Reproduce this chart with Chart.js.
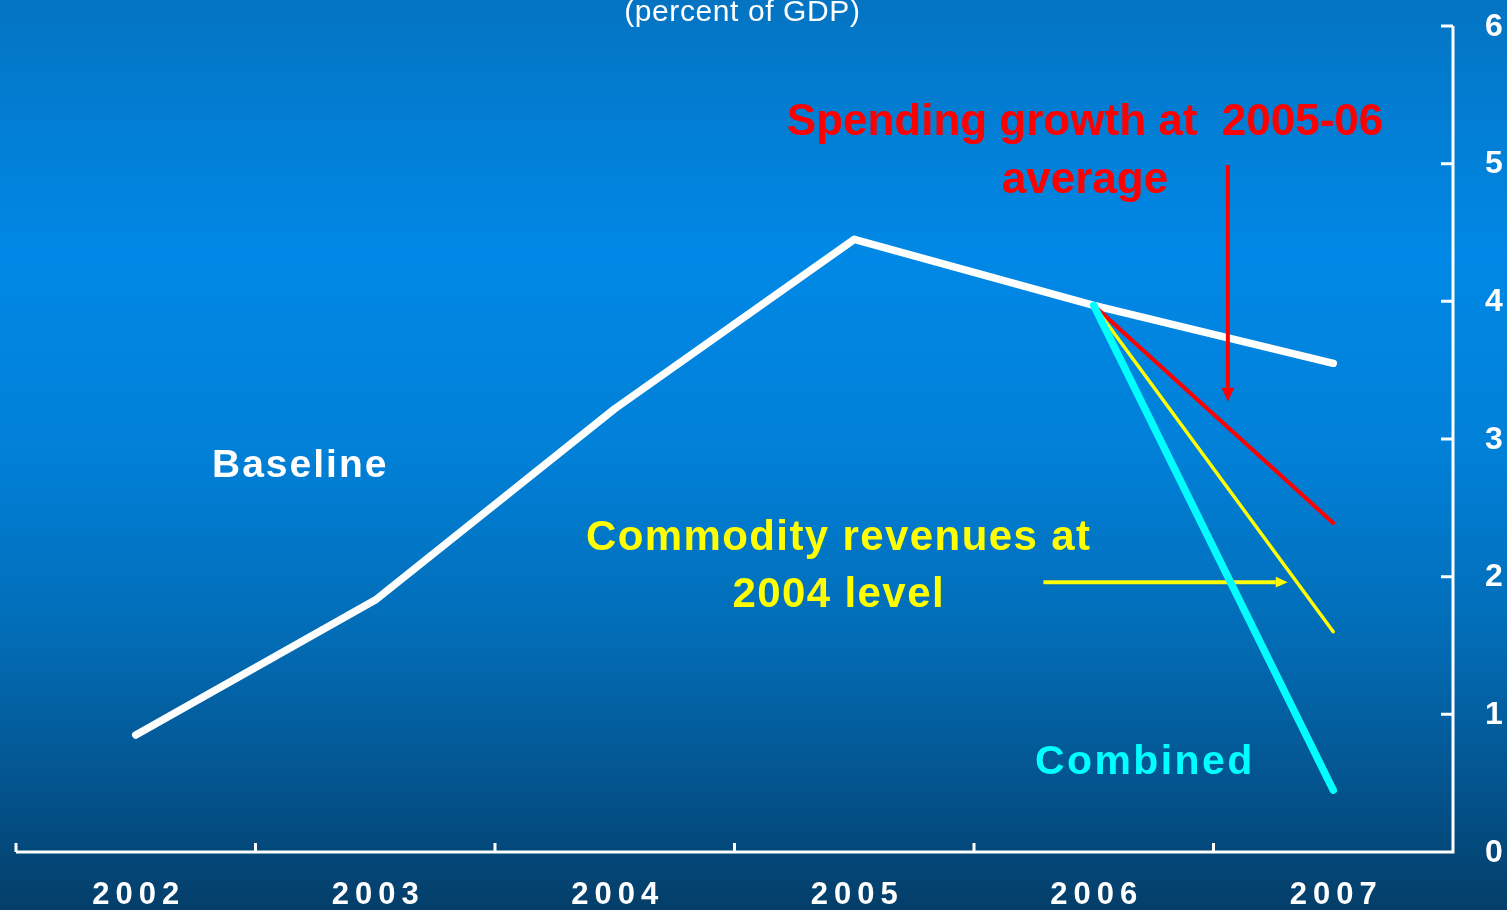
<!DOCTYPE html>
<html>
<head>
<meta charset="utf-8">
<script src="https://cdn.jsdelivr.net/npm/chart.js@4/dist/chart.umd.min.js"></script>
<style>
  html, body { margin: 0; padding: 0; background: #0478c6; overflow: hidden; }
  #wrap { width: 1507px; height: 910px; }
</style>
</head>
<body>
<div id="wrap"><canvas id="c" width="1507" height="910"></canvas></div>
<script>
// Fiscal balance, percent of GDP
const years = ['2002', '2003', '2004', '2005', '2006', '2007'];
const baseline = [0.85, 1.83, 3.22, 4.45, 3.97, 3.55];
const spendingGrowth = [null, null, null, null, 3.97, 2.39];
const commodityRevenues = [null, null, null, null, 3.97, 1.60];
const combined = [null, null, null, null, 3.97, 0.45];
const yTicks = [0, 1, 2, 3, 4, 5, 6];

const FONT = '"Liberation Sans", Arial, Helvetica, sans-serif';

function drawText(ctx, text, x, y, font, color, align, spacing) {
  ctx.save();
  ctx.font = font;
  ctx.fillStyle = color;
  ctx.letterSpacing = (spacing || 0) + 'px';
  ctx.textBaseline = 'alphabetic';
  ctx.textAlign = align;
  let dx = 0;
  if (align === 'center') dx = (spacing || 0) / 2;
  ctx.fillText(text, x + dx, y);
  ctx.restore();
}

function arrow(ctx, x1, y1, x2, y2, color, width, head) {
  const ang = Math.atan2(y2 - y1, x2 - x1);
  ctx.save();
  ctx.strokeStyle = color;
  ctx.fillStyle = color;
  ctx.lineWidth = width;
  ctx.beginPath();
  ctx.moveTo(x1, y1);
  ctx.lineTo(x2 - Math.cos(ang) * head, y2 - Math.sin(ang) * head);
  ctx.stroke();
  ctx.beginPath();
  ctx.moveTo(x2, y2);
  ctx.lineTo(x2 - Math.cos(ang) * head - Math.sin(ang) * head * 0.45,
             y2 - Math.sin(ang) * head + Math.cos(ang) * head * 0.45);
  ctx.lineTo(x2 - Math.cos(ang) * head + Math.sin(ang) * head * 0.45,
             y2 - Math.sin(ang) * head - Math.cos(ang) * head * 0.45);
  ctx.closePath();
  ctx.fill();
  ctx.restore();
}

// position between categories: 4.56 means 56% of the way from 2006 to 2007
function catX(xs, v) {
  const i = Math.floor(v);
  const a = xs.getPixelForValue(i);
  const b = xs.getPixelForValue(i + 1);
  return a + (b - a) * (v - i);
}

const backdrop = {
  id: 'backdrop',
  beforeDraw(chart) {
    const ctx = chart.ctx;
    const h = chart.height;
    const g = ctx.createLinearGradient(0, 0, 0, h);
    g.addColorStop(0.00, '#0474c2');
    g.addColorStop(0.28, '#0088e6');
    g.addColorStop(0.50, '#0180d7');
    g.addColorStop(0.70, '#026cb5');
    g.addColorStop(0.86, '#03548e');
    g.addColorStop(1.00, '#043e69');
    ctx.save();
    ctx.fillStyle = g;
    ctx.fillRect(0, 0, chart.width, h);
    ctx.restore();
  }
};

const axes = {
  id: 'axes',
  beforeDatasetsDraw(chart) {
    const ctx = chart.ctx;
    const xs = chart.scales.x, ys = chart.scales.y;
    const area = chart.chartArea;
    const step = xs.getPixelForValue(1) - xs.getPixelForValue(0);
    ctx.save();
    ctx.strokeStyle = '#ffffff';
    ctx.lineWidth = 3;
    ctx.lineCap = 'butt';
    // x axis line and inward ticks at category boundaries
    ctx.beginPath();
    ctx.moveTo(area.left, area.bottom);
    ctx.lineTo(area.right, area.bottom);
    for (let i = 0; i <= years.length; i++) {
      const x = xs.getPixelForValue(0) - step / 2 + i * step;
      ctx.moveTo(x, area.bottom);
      ctx.lineTo(x, area.bottom - 9);
    }
    // right-hand y axis with inward ticks
    ctx.moveTo(area.right, area.bottom + 1.5);
    ctx.lineTo(area.right, area.top);
    yTicks.forEach(v => {
      const y = ys.getPixelForValue(v);
      ctx.moveTo(area.right, y);
      ctx.lineTo(area.right - 12, y);
    });
    ctx.stroke();
    ctx.restore();

    // tick labels
    years.forEach((lab, i) => {
      drawText(ctx, lab, xs.getPixelForValue(i), 904,
        'bold 31px ' + FONT, '#ffffff', 'center', 6);
    });
    yTicks.forEach(v => {
      ctx.save();
      ctx.font = 'bold 32px ' + FONT;
      ctx.fillStyle = '#ffffff';
      ctx.textAlign = 'left';
      ctx.textBaseline = 'middle';
      ctx.fillText(String(v), area.right + 32, ys.getPixelForValue(v) + 1);
      ctx.restore();
    });
  },
  beforeDatasetDraw(chart, args) {
    // pointer arrows sit beneath the combined line
    if (args.index !== 3) return;
    const ctx = chart.ctx;
    const xs = chart.scales.x, ys = chart.scales.y;
    arrow(ctx, catX(xs, 4.56), ys.getPixelForValue(4.99),
               catX(xs, 4.56), ys.getPixelForValue(3.27), '#ff0000', 4, 14);
    arrow(ctx, catX(xs, 3.79), ys.getPixelForValue(1.96),
               catX(xs, 4.81), ys.getPixelForValue(1.96), '#ffff00', 4, 12);
  },
  afterDraw(chart) {
    const ctx = chart.ctx;
    drawText(ctx, '(percent of GDP)', 742, 21, '30px ' + FONT, '#ffffff', 'center', 0.6);
    drawText(ctx, 'Baseline', 212, 477, 'bold 39px ' + FONT, '#ffffff', 'left', 2);
    drawText(ctx, 'Spending growth at  2005-06', 1085, 135, 'bold 44px ' + FONT, '#ff0000', 'center', 0);
    drawText(ctx, 'average', 1085, 193, 'bold 44px ' + FONT, '#ff0000', 'center', 0);
    drawText(ctx, 'Commodity revenues at', 838, 550, 'bold 42px ' + FONT, '#ffff00', 'center', 1.4);
    drawText(ctx, '2004 level', 838, 607, 'bold 42px ' + FONT, '#ffff00', 'center', 1.4);
    drawText(ctx, 'Combined', 1035, 774, 'bold 41px ' + FONT, '#00ffff', 'left', 2.4);
  }
};

new Chart(document.getElementById('c'), {
  type: 'line',
  data: {
    labels: years,
    datasets: [
      { label: 'Baseline', data: baseline, borderColor: '#ffffff', borderWidth: 7.5, order: 4 },
      { label: 'Spending growth at 2005-06 average', data: spendingGrowth, borderColor: '#ff0000', borderWidth: 4, order: 3 },
      { label: 'Commodity revenues at 2004 level', data: commodityRevenues, borderColor: '#ffff00', borderWidth: 3.5, order: 2 },
      { label: 'Combined', data: combined, borderColor: '#00ffff', borderWidth: 7.5, order: 1 }
    ]
  },
  options: {
    responsive: false,
    animation: false,
    devicePixelRatio: 1,
    layout: { padding: { left: 16, right: 54, top: 26, bottom: 58 } },
    elements: {
      point: { radius: 0, hoverRadius: 0 },
      line: { tension: 0, fill: false, borderCapStyle: 'round', borderJoinStyle: 'round', spanGaps: false }
    },
    plugins: { legend: { display: false }, tooltip: { enabled: false }, title: { display: false } },
    scales: {
      x: { type: 'category', offset: true, display: false },
      y: { type: 'linear', min: 0, max: 6, display: false }
    },
    events: []
  },
  plugins: [backdrop, axes]
});
</script>
</body>
</html>
